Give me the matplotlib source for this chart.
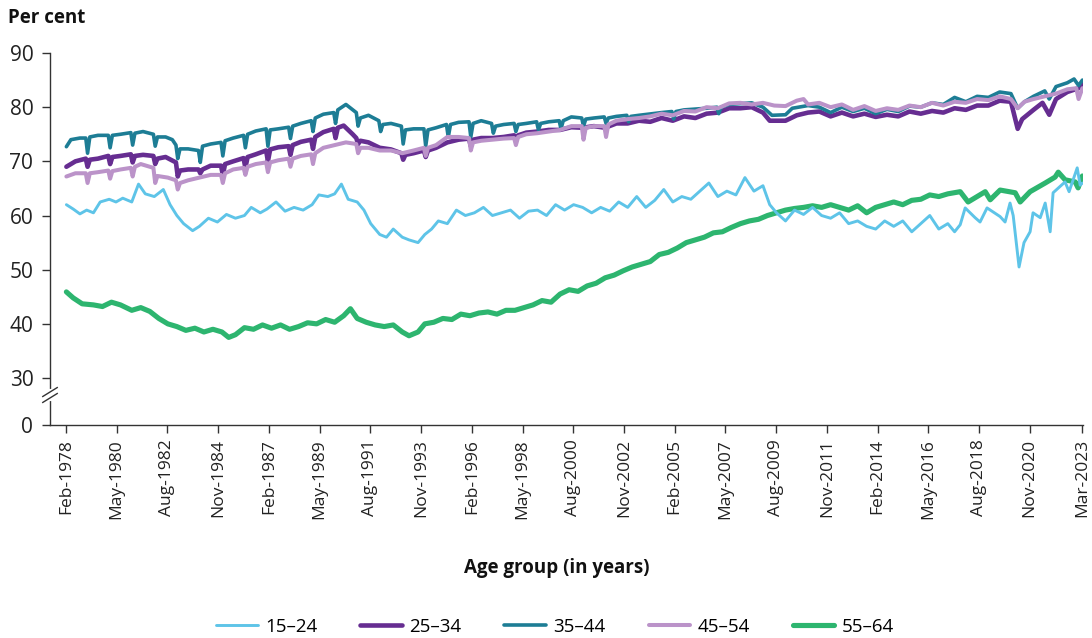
import numpy as np
import pandas as pd
import matplotlib
matplotlib.use('Agg')
import matplotlib.pyplot as plt

plt.rcParams['font.family'] = ['Open Sans', 'DejaVu Sans']

# age groups
groups = ['15–24', '25–34', '35–44', '45–54', '55–64']

# values (decimal year, per cent)
yr_1524 = [1978.1, 1978.4, 1978.7, 1979.0, 1979.3, 1979.6, 1980.0, 1980.3, 1980.6, 1981.0,
           1981.3, 1981.6, 1982.0, 1982.4, 1982.7, 1983.0, 1983.3, 1983.7, 1984.0, 1984.4,
           1984.8, 1985.2, 1985.6, 1986.0, 1986.3, 1986.7, 1987.0, 1987.4, 1987.8, 1988.2,
           1988.6, 1989.0, 1989.3, 1989.7, 1990.0, 1990.3, 1990.6, 1991.0, 1991.3, 1991.6,
           1992.0, 1992.3, 1992.6, 1993.0, 1993.3, 1993.7, 1994.0, 1994.3, 1994.6, 1995.0,
           1995.4, 1995.8, 1996.2, 1996.6, 1997.0, 1997.4, 1997.8, 1998.2, 1998.6, 1999.0,
           1999.4, 1999.8, 2000.2, 2000.6, 2001.0, 2001.4, 2001.8, 2002.2, 2002.6, 2003.0,
           2003.4, 2003.8, 2004.2, 2004.6, 2005.0, 2005.4, 2005.8, 2006.2, 2006.6, 2007.0,
           2007.4, 2007.8, 2008.2, 2008.6, 2009.0, 2009.3, 2009.6, 2010.0, 2010.4, 2010.8,
           2011.2, 2011.6, 2012.0, 2012.4, 2012.8, 2013.2, 2013.6, 2014.0, 2014.4, 2014.8,
           2015.2, 2015.6, 2016.0, 2016.4, 2016.8, 2017.2, 2017.5, 2017.75, 2017.97, 2018.41,
           2018.63, 2018.94, 2019.52, 2019.74, 2019.96, 2020.1, 2020.36, 2020.58, 2020.85, 2020.98,
           2021.3, 2021.52, 2021.74, 2021.87, 2022.4, 2022.58, 2022.94, 2023.07, 2023.17]
pc_1524 = [62.0, 61.2, 60.3, 61.0, 60.5, 62.5, 63.0, 62.5, 63.2, 62.5,
           65.8, 64.0, 63.5, 64.8, 62.0, 60.0, 58.5, 57.2, 58.0, 59.5,
           58.8, 60.2, 59.5, 60.0, 61.5, 60.5, 61.2, 62.5, 60.8, 61.5,
           61.0, 62.0, 63.8, 63.5, 64.0, 65.8, 63.0, 62.5, 61.0, 58.5,
           56.5, 56.0, 57.5, 56.0, 55.5, 55.0, 56.5, 57.5, 59.0, 58.5,
           61.0, 60.0, 60.5, 61.5, 60.0, 60.5, 61.0, 59.5, 60.8, 61.0,
           60.0, 62.0, 61.0, 62.0, 61.5, 60.5, 61.5, 60.8, 62.5, 61.5,
           63.5, 61.5, 62.8, 64.8, 62.5, 63.5, 63.0, 64.5, 66.0, 63.5,
           64.5, 63.8, 67.0, 64.5, 65.5, 62.0, 60.5, 59.0, 61.0, 60.2,
           61.5, 60.0, 59.5, 60.5, 58.5, 59.0, 58.0, 57.5, 59.0, 58.0,
           59.0, 57.0, 58.5, 60.0, 57.5, 58.5, 57.0, 58.3, 61.4, 59.6,
           58.8, 61.4, 59.8, 58.8, 62.3, 60.0, 50.5, 55.0, 57.0, 60.5,
           59.6, 62.3, 57.0, 64.2, 66.2, 64.4, 68.8, 65.6, 66.0]

yr_2534 = [1978.1, 1978.5,
           1978.96, 1979.04, 1979.14, 1979.5, 1979.96, 1980.04, 1980.14, 1980.5,
           1980.96, 1981.04, 1981.14, 1981.5, 1981.96, 1982.04, 1982.14, 1982.5,
           1982.96, 1983.04, 1983.14, 1983.5, 1983.96, 1984.04, 1984.14, 1984.5,
           1984.96, 1985.04, 1985.14, 1985.5, 1985.96, 1986.04, 1986.14, 1986.5,
           1986.96, 1987.04, 1987.14, 1987.5, 1987.96, 1988.04, 1988.14, 1988.5,
           1988.96, 1989.04, 1989.14, 1989.5, 1989.96, 1990.04, 1990.14, 1990.4, 1990.8,
           1990.96, 1991.04, 1991.14, 1991.5, 1992.0, 1992.5,
           1992.96, 1993.04, 1993.14, 1993.5, 1993.96, 1994.04, 1994.14, 1994.5,
           1995.0, 1995.5, 1995.96, 1996.04, 1996.14, 1996.5, 1997.0, 1997.5,
           1997.96, 1998.04, 1998.14, 1998.5, 1999.0, 1999.5, 2000.0, 2000.5,
           2001.0, 2001.5, 2002.0, 2002.5, 2003.0, 2003.5, 2004.0, 2004.5, 2005.0, 2005.5,
           2006.0, 2006.5, 2007.0, 2007.5, 2008.0, 2008.5, 2009.0, 2009.3, 2010.0, 2010.5,
           2011.0, 2011.5, 2012.0, 2012.5, 2013.0, 2013.5, 2014.0, 2014.5, 2015.0, 2015.5,
           2016.0, 2016.5, 2017.0, 2017.5, 2018.0, 2018.5, 2019.0, 2019.5, 2020.0, 2020.3,
           2020.5, 2021.0, 2021.4, 2021.7, 2022.0, 2022.5, 2023.0, 2023.17]
pc_2534 = [69.0, 70.0,
           70.5, 69.0, 70.3, 70.5, 71.0, 69.5, 70.8, 71.0,
           71.3, 69.8, 71.0, 71.2, 71.0, 69.5, 70.5, 70.8,
           69.8, 67.2, 68.3, 68.5, 68.5, 67.8, 68.5, 69.2,
           69.2, 67.5, 69.5, 70.0, 70.6, 68.8, 70.8, 71.3,
           72.0, 70.0, 72.2, 72.6, 72.8, 71.2, 73.0, 73.6,
           74.0, 72.3, 74.5, 75.4, 76.0, 74.3, 76.2, 76.6, 75.0,
           74.3, 73.2, 73.8, 73.5, 72.5, 72.2,
           71.5, 70.3, 71.2, 71.5, 72.0, 70.8, 72.0, 72.5,
           73.5, 74.0, 74.2, 72.8, 74.0, 74.3, 74.3, 74.5,
           74.8, 73.8, 74.8, 75.3, 75.5, 75.8, 75.8, 76.3,
           76.2, 76.5, 76.2, 77.0, 77.0, 77.5, 77.3, 78.0, 77.5, 78.3,
           78.0, 78.8, 79.0, 79.8, 79.8, 80.0, 79.0, 77.5, 77.5, 78.5,
           79.0, 79.2, 78.3, 79.0, 78.3, 78.8, 78.2, 78.6, 78.3, 79.2,
           78.8, 79.3, 79.0, 79.8, 79.5, 80.3, 80.3, 81.2, 81.0, 76.0,
           77.8, 79.5, 80.8, 78.6, 81.5, 82.8, 83.5, 84.3]

yr_3544 = [1978.1, 1978.3, 1978.7,
           1978.96, 1979.04, 1979.14, 1979.5, 1979.96, 1980.04, 1980.14, 1980.5,
           1980.96, 1981.04, 1981.14, 1981.5, 1981.96, 1982.04, 1982.14, 1982.5, 1982.8,
           1982.96, 1983.04, 1983.14, 1983.5, 1983.96, 1984.04, 1984.14, 1984.5,
           1984.96, 1985.04, 1985.14, 1985.5, 1985.96, 1986.04, 1986.14, 1986.5,
           1986.96, 1987.04, 1987.14, 1987.5, 1987.96, 1988.04, 1988.14, 1988.5,
           1988.96, 1989.04, 1989.14, 1989.5, 1989.96, 1990.04, 1990.14, 1990.5,
           1990.96, 1991.04, 1991.14, 1991.5, 1991.96, 1992.04, 1992.14, 1992.5,
           1992.96, 1993.04, 1993.14, 1993.5, 1993.96, 1994.04, 1994.14, 1994.5,
           1994.96, 1995.04, 1995.14, 1995.5, 1995.96, 1996.04, 1996.14, 1996.5,
           1996.96, 1997.04, 1997.14, 1997.5, 1997.96, 1998.04, 1998.14, 1998.5,
           1998.96, 1999.04, 1999.14, 1999.5, 1999.96, 2000.04, 2000.14, 2000.5,
           2000.96, 2001.04, 2001.14, 2001.5, 2001.96, 2002.04, 2002.14, 2002.5,
           2002.96, 2003.04, 2003.14, 2003.5, 2004.5,
           2004.96, 2005.04, 2005.14, 2005.5, 2006.5,
           2006.96, 2007.04, 2007.14, 2007.5, 2008.5, 2009.0,
           2009.4, 2010.0, 2010.3, 2011.0, 2011.5, 2012.0, 2012.5, 2013.0, 2013.5, 2014.0,
           2014.5, 2015.0, 2015.5, 2016.0, 2016.5, 2017.0, 2017.5, 2018.0, 2018.5, 2019.0,
           2019.5, 2020.0, 2020.3, 2020.6, 2021.0, 2021.5, 2021.7, 2022.0, 2022.5, 2022.8,
           2023.0, 2023.17]
pc_3544 = [72.7, 74.0, 74.3,
           74.3, 71.5, 74.5, 74.8, 74.8, 72.5, 74.8, 75.0,
           75.3, 73.0, 75.2, 75.5, 75.0, 72.8, 74.5, 74.5, 74.0,
           73.0, 70.5, 72.3, 72.3, 72.0, 69.8, 72.8, 73.2,
           73.5, 71.0, 73.8, 74.3, 74.8, 72.5, 75.0, 75.6,
           76.0, 72.8, 75.8, 76.0, 76.3, 74.2, 76.5, 77.0,
           77.5, 75.5, 78.0, 78.7, 79.0, 77.0, 79.5, 80.5,
           79.0, 76.5, 78.0, 78.5, 77.5, 75.5, 76.8, 77.0,
           76.5, 73.2, 75.8, 76.0, 76.0, 72.8, 75.8, 76.2,
           76.8, 74.5, 76.8, 77.2, 77.3, 74.5, 77.0, 77.5,
           77.0, 75.2, 76.5, 76.8, 77.0, 75.5, 76.8, 77.0,
           77.3, 75.8, 77.0, 77.3, 77.5, 76.0, 77.5, 78.2,
           78.0, 76.5, 77.8, 78.0, 78.2, 77.0, 78.0, 78.3,
           78.5, 77.3, 78.3, 78.5, 79.0,
           79.2, 77.8, 79.2, 79.5, 79.8,
           80.0, 78.8, 80.0, 80.5, 80.8, 80.0,
           78.5, 78.6, 79.8, 80.3, 80.0, 79.0, 80.0, 79.2, 79.8, 78.8,
           79.6, 79.2, 80.2, 80.0, 80.8, 80.5, 81.8, 81.0, 82.0, 81.8,
           82.8, 82.5, 79.8, 81.0, 82.0, 83.0, 81.5, 83.8, 84.5, 85.2,
           84.0, 85.0]

yr_4554 = [1978.1, 1978.5,
           1978.96, 1979.04, 1979.14, 1979.5, 1979.96, 1980.04, 1980.14, 1980.5,
           1980.96, 1981.04, 1981.14, 1981.4, 1981.96, 1982.04, 1982.14, 1982.6,
           1982.96, 1983.04, 1983.14, 1983.5, 1984.0, 1984.5,
           1984.96, 1985.04, 1985.14, 1985.5, 1985.96, 1986.04, 1986.14, 1986.5,
           1986.96, 1987.04, 1987.14, 1987.5, 1987.96, 1988.04, 1988.14, 1988.5,
           1988.96, 1989.04, 1989.14, 1989.5, 1990.0, 1990.5,
           1990.96, 1991.04, 1991.14, 1991.5, 1992.0, 1992.5, 1993.0, 1993.5,
           1993.96, 1994.04, 1994.14, 1994.5, 1995.0, 1995.5,
           1995.96, 1996.04, 1996.14, 1996.5, 1997.0, 1997.5,
           1997.96, 1998.04, 1998.14, 1998.5, 1999.0, 1999.5, 2000.0, 2000.5,
           2000.96, 2001.04, 2001.14, 2001.5, 2001.96, 2002.04, 2002.14, 2002.5,
           2003.0, 2003.5, 2004.0, 2004.5, 2005.0,
           2005.5, 2006.0, 2006.5, 2007.0, 2007.5, 2008.0, 2008.5, 2009.0, 2009.5, 2010.0,
           2010.5, 2010.8, 2011.0, 2011.5, 2012.0, 2012.5, 2013.0, 2013.5, 2014.0, 2014.5,
           2015.0, 2015.5, 2016.0, 2016.5, 2017.0, 2017.5, 2018.0, 2018.5, 2019.0, 2019.5,
           2020.0, 2020.3, 2020.6, 2021.0, 2021.5, 2022.0, 2022.5, 2022.9, 2023.0, 2023.17]
pc_4554 = [67.2, 67.8,
           67.8, 66.0, 67.8, 68.0, 68.3, 66.8, 68.2, 68.5,
           68.8, 67.2, 69.0, 69.5, 68.8, 66.0, 67.3, 67.0,
           66.5, 64.8, 66.0, 66.5, 67.0, 67.5,
           67.5, 66.0, 67.8, 68.5, 68.8, 67.5, 69.0, 69.5,
           69.8, 68.0, 69.8, 70.2, 70.5, 69.0, 70.5, 71.0,
           71.3, 69.5, 71.5, 72.5, 73.0, 73.5,
           73.2, 71.5, 72.5, 72.5, 72.0, 72.0, 71.5, 72.0,
           72.5, 71.0, 72.5, 73.0, 74.5, 74.5,
           74.3, 72.0, 73.5, 73.8, 74.0, 74.2,
           74.3, 73.0, 74.5, 75.0, 75.2, 75.5, 75.8, 76.5,
           76.5, 74.0, 76.2, 76.5, 76.5, 74.5, 76.8, 77.5,
           77.8, 78.0, 78.3, 78.8, 78.5,
           79.3, 79.2, 80.0, 79.8, 80.7, 80.8, 80.5, 80.8, 80.3, 80.2,
           81.2, 81.5, 80.5, 80.8, 80.0, 80.5, 79.5, 80.2, 79.3, 79.8,
           79.5, 80.3, 80.0, 80.8, 80.3, 81.0, 80.8, 81.5, 81.3, 82.0,
           81.5, 79.8, 81.0, 81.5, 82.0, 82.5, 83.3, 83.5, 81.5, 83.5]

yr_5564 = [1978.1, 1978.4, 1978.8, 1979.3, 1979.7, 1980.1, 1980.5, 1981.0, 1981.4, 1981.8,
           1982.2, 1982.6, 1983.0, 1983.4, 1983.8, 1984.2, 1984.6, 1985.0, 1985.3, 1985.6,
           1986.0, 1986.4, 1986.8, 1987.2, 1987.6, 1988.0, 1988.4, 1988.8, 1989.2, 1989.6,
           1990.0, 1990.4, 1990.7, 1991.0, 1991.4, 1991.8, 1992.2, 1992.6, 1993.0, 1993.3,
           1993.7, 1994.0, 1994.4, 1994.8, 1995.2, 1995.6, 1996.0, 1996.4, 1996.8, 1997.2,
           1997.6, 1998.0, 1998.4, 1998.8, 1999.2, 1999.6, 2000.0, 2000.4, 2000.8, 2001.2,
           2001.6, 2002.0, 2002.4, 2002.8, 2003.2, 2003.6, 2004.0, 2004.4, 2004.8, 2005.2,
           2005.6, 2006.0, 2006.4, 2006.8, 2007.2, 2007.6, 2008.0, 2008.4, 2008.8, 2009.2,
           2009.6, 2010.0, 2010.4, 2010.8, 2011.2, 2011.6, 2012.0, 2012.4, 2012.8, 2013.2,
           2013.6, 2014.0, 2014.4, 2014.8, 2015.2, 2015.6, 2016.0, 2016.4, 2016.8, 2017.2,
           2017.75, 2018.1, 2018.86, 2019.08, 2019.52, 2020.19, 2020.41, 2020.85, 2021.52, 2021.96,
           2022.1, 2022.4, 2022.85, 2022.98, 2023.17]
pc_5564 = [45.9, 44.8, 43.7, 43.5, 43.2, 44.0, 43.5, 42.5, 43.0, 42.3,
           41.0, 40.0, 39.5, 38.8, 39.2, 38.5, 39.0, 38.5, 37.5, 38.0,
           39.3, 39.0, 39.8, 39.2, 39.8, 39.0, 39.5, 40.2, 40.0, 40.8,
           40.3, 41.5, 42.8, 41.0, 40.3, 39.8, 39.5, 39.8, 38.5, 37.8,
           38.5, 40.0, 40.3, 41.0, 40.8, 41.8, 41.5, 42.0, 42.2, 41.8,
           42.5, 42.5, 43.0, 43.5, 44.3, 44.0, 45.5, 46.3, 46.0, 47.0,
           47.5, 48.5, 49.0, 49.8, 50.5, 51.0, 51.5, 52.8, 53.2, 54.0,
           55.0, 55.5, 56.0, 56.8, 57.0, 57.8, 58.5, 59.0, 59.3, 60.0,
           60.5, 61.0, 61.3, 61.5, 61.8, 61.5, 62.0, 61.5, 61.0, 61.8,
           60.5, 61.5, 62.0, 62.5, 62.0, 62.8, 63.0, 63.8, 63.5, 64.0,
           64.4, 62.5, 64.4, 62.9, 64.7, 64.2, 62.5, 64.4, 66.0, 67.1,
           68.0, 66.6, 66.2, 65.1, 67.3]

tick_labels = ['Feb-1978', 'May-1980', 'Aug-1982', 'Nov-1984', 'Feb-1987', 'May-1989',
               'Aug-1991', 'Nov-1993', 'Feb-1996', 'May-1998', 'Aug-2000', 'Nov-2002',
               'Feb-2005', 'May-2007', 'Aug-2009', 'Nov-2011', 'Feb-2014', 'May-2016',
               'Aug-2018', 'Nov-2020', 'Mar-2023']

colors = ['#5ec4e8', '#662d91', '#1d7d95', '#bb93c9', '#2db56f']
widths = [2.1, 3.3, 2.6, 2.9, 3.7]

dates = pd.to_datetime(tick_labels, format='%b-%Y')
tick_pos = dates.year + (dates.month - 1) / 12.0

ybot = 21.33  # where the "0" sits on the broken axis

fig = plt.figure(figsize=(10.92, 6.38), dpi=100)
ax = fig.add_axes([50/1092, 213/638, 1033/1092, 372/638])

series = [(yr_5564, pc_5564, 4), (yr_1524, pc_1524, 0), (yr_2534, pc_2534, 1),
          (yr_3544, pc_3544, 2), (yr_4554, pc_4554, 3)]
handles = {}
for xs, ys, i in series:
    ln, = ax.plot(xs, ys, color=colors[i], lw=widths[i], solid_capstyle='round',
                  solid_joinstyle='round', label=groups[i])
    handles[i] = ln

ax.set_xlim(tick_pos[0] - 0.71, tick_pos[-1] + 0.03)
ax.set_ylim(ybot, 90)
ax.set_yticks([ybot, 30, 40, 50, 60, 70, 80, 90])
ax.set_yticklabels(['0', '30', '40', '50', '60', '70', '80', '90'], fontsize=15, color='#222222')
ax.set_xticks(tick_pos)
ax.set_xticklabels(tick_labels, rotation=90, fontsize=12.5, color='#222222')
ax.tick_params(axis='both', direction='out', length=6, width=1, color='#333333')
ax.tick_params(axis='y', pad=6)
ax.tick_params(axis='x', pad=4)

for s in ['top', 'right']:
    ax.spines[s].set_visible(False)
for s in ['left', 'bottom']:
    ax.spines[s].set_color('#333333')
    ax.spines[s].set_linewidth(1)

# axis break between 0 and 30
yb = 1 - (395 - 53) / 372
ax.plot([0, 0], [yb - 0.012, yb + 0.012], transform=ax.transAxes, color='white',
        lw=3, clip_on=False, zorder=5)
for off in (-0.008, 0.008):
    ax.plot([-0.007, 0.007], [yb + off - 0.012, yb + off + 0.012], transform=ax.transAxes,
            color='#333333', lw=1, clip_on=False, zorder=6)

fig.text(8/1092, 1 - 18/638, 'Per cent', fontsize=13.5, fontweight='bold',
         va='center', ha='left', color='#111111')
fig.text(557/1092, 1 - 568/638, 'Age group (in years)', fontsize=13.5, fontweight='bold',
         va='center', ha='center', color='#111111')

fig.legend([handles[i] for i in range(5)], groups, loc='center',
           bbox_to_anchor=(555/1092, 1 - 627/638), ncol=5, frameon=False,
           fontsize=13.5, handlelength=2.2, handletextpad=0.4, columnspacing=2.3)

fig.savefig('out.png', dpi=100)
